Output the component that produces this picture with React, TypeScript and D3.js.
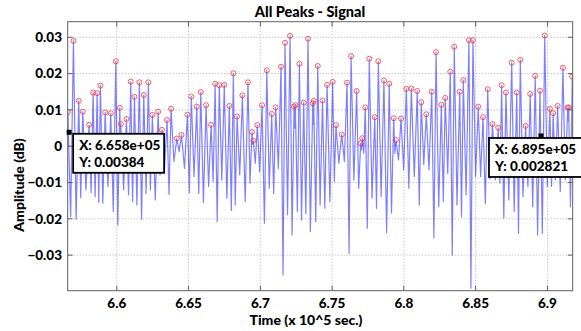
import React from 'react'
import * as d3 from 'd3'

// peak times (x 10^5 sec.) and amplitudes
const peakT = [
  6.5659, 6.5698, 6.5735, 6.5763, 6.5807, 6.5835, 6.5863, 6.5886, 6.5919, 6.5958,
  6.5993, 6.6021, 6.6028, 6.6067, 6.6097, 6.6123, 6.6157, 6.6188, 6.622, 6.6248,
  6.6288, 6.6315, 6.635, 6.6378, 6.6418, 6.6451, 6.6492, 6.6519, 6.6557, 6.6585,
  6.6622, 6.6657, 6.6685, 6.6714, 6.6749, 6.6784, 6.6812, 6.6838, 6.6875, 6.6914,
  6.6942, 6.6951, 6.6979, 6.7012, 6.7045, 6.7079, 6.7107, 6.7144, 6.7172, 6.7207,
  6.7235, 6.7244, 6.7272, 6.7302, 6.7332, 6.7365, 6.7372, 6.74, 6.7433, 6.7465,
  6.7504, 6.7527, 6.7567, 6.7604, 6.7632, 6.7671, 6.7699, 6.771, 6.7731, 6.7759,
  6.7797, 6.7822, 6.7861, 6.7898, 6.7929, 6.7945, 6.798, 6.8017, 6.8052, 6.8093,
  6.8121, 6.8156, 6.8194, 6.8224, 6.8261, 6.8288, 6.8323, 6.8351, 6.8389, 6.8414,
  6.8453, 6.8481, 6.8518, 6.8551, 6.8584, 6.8617, 6.8657, 6.8681, 6.8711, 6.8751,
  6.8786, 6.8811, 6.8848, 6.888, 6.8915, 6.8948, 6.8981, 6.9017, 6.904, 6.9071,
  6.9108, 6.9141, 6.9148, 6.9173,
]
const peakV = [
  0.0094, 0.029, 0.0125, 0.0095, 0.0059, 0.0148, 0.0146, 0.0167, 0.0093, 0.0091,
  0.0234, 0.0106, 0.0061, 0.0075, 0.0178, 0.0136, 0.0176, 0.0141, 0.0176, 0.0086,
  0.0095, 0.0045, 0.0072, 0.0103, 0.0021, 0.0031, 0.0087, 0.0137, 0.0109, 0.0149,
  0.0113, 0.0059, 0.0172, 0.0168, 0.0169, 0.0111, 0.0201, 0.0082, 0.014, 0.0176,
  0.0039, 0.0015, 0.0058, 0.0113, 0.0209, 0.0089, 0.0107, 0.0219, 0.0285, 0.0304,
  0.0109, 0.0113, 0.0227, 0.012, 0.0296, 0.0118, 0.0125, 0.0221, 0.0126, 0.0169,
  0.0177, 0.0058, 0.0032, 0.0175, 0.0248, 0.0152, 0.0008, 0.0022, 0.0107, 0.0241,
  0.008, 0.0234, 0.0181, 0.0172, 0.0077, 0.0017, 0.0076, 0.0158, 0.0159, 0.0152,
  0.0121, 0.0088, 0.015, 0.0259, 0.0114, 0.0133, 0.0205, 0.0274, 0.015, 0.0182,
  0.0292, 0.0292, 0.0109, 0.008, 0.0157, 0.0061, 0.0051, 0.0168, 0.0148, 0.023,
  0.0148, 0.0238, 0.0056, 0.0144, 0.0194, 0.0153, 0.0305, 0.0103, 0.0091, 0.0111,
  0.0216, 0.0106, 0.0107, 0.0192,
]
// minimum between each pair of neighbouring peaks
const troughV = [
  -0.0194, -0.0201, -0.0142, -0.012, -0.0128, -0.0139, -0.0155, -0.0157, -0.0111, -0.018,
  -0.0217, 0.003, -0.012, -0.0134, -0.0153, -0.0162, -0.0201, -0.013, -0.012,
  -0.0148, -0.0079, -0.006, -0.0133, -0.0042, -0.0015, -0.0061, -0.0128, -0.0084, -0.013,
  -0.0155, -0.0111, -0.0097, -0.0208, -0.0093, -0.0143, -0.0177, -0.0162,
  -0.0079, -0.0153, -0.0102, 0.0005, -0.0047, -0.007, -0.0212, -0.0116, -0.013, -0.0061,
  -0.0355, -0.0189, -0.0244, 0.005, -0.018, -0.0203, -0.0186, -0.0235, 0.006, -0.0208, -0.0162,
  -0.0171, -0.0153, -0.0097, -0.0047, -0.0042, -0.0295, -0.0093, -0.0116, -0.001, -0.0019,
  -0.0226, -0.0143, -0.0171, -0.0139, -0.0238, -0.0184, -0.002, -0.0038, -0.0065,
  -0.0116, -0.0084, -0.0162, -0.005, -0.0065, -0.0253, -0.0167, -0.0153, -0.0075, -0.03,
  -0.0162, -0.0194, -0.0134, -0.0391, -0.0084, -0.0084, -0.0158, -0.009,
  -0.0093, -0.0102, -0.0198, -0.0148, -0.018, -0.024, -0.0139, -0.0111, -0.0167, -0.0244,
  -0.024, -0.0111, -0.0111, -0.0093, -0.0125, -0.0093, 0.007, -0.0167,
]
const startV = 0.008
const endV = 0.012

const xTicks = [6.6, 6.65, 6.7, 6.75, 6.8, 6.85, 6.9]
const yTicks = [-0.03, -0.02, -0.01, 0, 0.01, 0.02, 0.03]

const tipX = [6.5668, 6.8955]
const tipY = [0.00384, 0.002821]
const tipXLabels = ['6.658e+05', '6.895e+05']
const tipYLabels = ['0.00384', '0.002821']

const W = 581
const H = 331
const margin = { top: 21.7, right: 8.3, bottom: 40.3, left: 67.7 }
const font = 'Lato, "Open Sans", sans-serif'

export default function App() {
  const x = d3.scaleLinear().domain([6.5658, 6.9176]).range([margin.left, W - margin.right])
  const y = d3.scaleLinear().domain([-0.0398, 0.0343]).range([H - margin.bottom, margin.top])

  const pts: [number, number][] = [[6.5658, startV]]
  peakT.forEach((t, i) => {
    pts.push([t, peakV[i]])
    if (i < troughV.length) pts.push([(t + peakT[i + 1]) / 2, troughV[i]])
  })
  pts.push([6.9176, endV])

  const line = d3.line<[number, number]>().x(d => x(d[0])).y(d => y(d[1]))
  const [x0, x1] = x.range()
  const [y0, y1] = y.range()

  const fmtY = (v: number) => (v === 0 ? '0' : d3.format('.2f')(v).replace(/0$/, ''))

  const boxes = [
    { dx: 4, dy: 1.5, w: 91, h: 39 },
    { dx: -52, dy: 2, w: 93, h: 39 },
  ]

  return (
    <svg width={W} height={H} style={{ position: 'absolute', left: 0, top: 0, background: '#fff' }} fontFamily={font}>
      <defs>
        <clipPath id="plot">
          <rect x={x0} y={y1} width={x1 - x0} height={y0 - y1} />
        </clipPath>
      </defs>
      <rect x={x0} y={y1} width={x1 - x0} height={y0 - y1} fill="#fff" />
      {xTicks.map(t => (
        <line key={'gx' + t} x1={x(t)} x2={x(t)} y1={y1} y2={y0} stroke="#b0b0b0" strokeWidth={1} strokeDasharray="1,2" />
      ))}
      {yTicks.map(t => (
        <line key={'gy' + t} x1={x0} x2={x1} y1={y(t)} y2={y(t)} stroke="#b0b0b0" strokeWidth={1} strokeDasharray="1,2" />
      ))}
      <g clipPath="url(#plot)">
        <path d={line(pts) || ''} fill="none" stroke="#0000ff" strokeWidth={1.2} strokeOpacity={0.5} strokeLinejoin="round" />
        {peakT.map((t, i) => (
          <circle key={'p' + i} cx={x(t)} cy={y(peakV[i])} r={2.5} fill="none" stroke="#ff3030" strokeWidth={0.8} />
        ))}
      </g>
      {xTicks.map(t => (
        <g key={'tx' + t}>
          <line x1={x(t)} x2={x(t)} y1={y0} y2={y0 - 5} stroke="#606060" />
          <line x1={x(t)} x2={x(t)} y1={y1} y2={y1 + 5} stroke="#606060" />
          <text x={x(t)} y={308} textAnchor="middle" fontSize={13.5} fontWeight={900}>{String(t)}</text>
        </g>
      ))}
      {yTicks.map(t => (
        <g key={'ty' + t}>
          <line x1={x0} x2={x0 + 5} y1={y(t)} y2={y(t)} stroke="#606060" />
          <line x1={x1} x2={x1 - 5} y1={y(t)} y2={y(t)} stroke="#606060" />
          <text x={62} y={y(t)} dy="0.35em" textAnchor="end" fontSize={13.5} fontWeight={900}>{fmtY(t)}</text>
        </g>
      ))}
      <rect x={x0} y={y1} width={x1 - x0} height={y0 - y1} fill="none" stroke="#606060" strokeWidth={1} />
      <text x={310} y={16.5} textAnchor="middle" fontSize={14.5} fontWeight={900}>All Peaks - Signal</text>
      <text x={306} y={324.5} textAnchor="middle" fontSize={14} fontWeight={900}>Time (x 10^5 sec.)</text>
      <text transform="translate(24,185) rotate(-90)" textAnchor="middle" fontSize={14} fontWeight={900}>Amplitude (dB)</text>
      {tipX.map((t, i) => {
        const mx = x(t)
        const my = y(tipY[i])
        const b = boxes[i]
        const bx = mx + b.dx
        const by = my + b.dy
        return (
          <g key={'tip' + i}>
            <rect x={mx - 2.5} y={my - 2.5} width={5} height={5} fill="#000" />
            <rect x={bx} y={by} width={b.w} height={b.h} fill="#fff" stroke="#000" strokeWidth={1.8} />
            <text x={bx + 6} y={by + 16} fontSize={13.5} fontWeight={900}>X: {tipXLabels[i]}</text>
            <text x={bx + 6} y={by + 33} fontSize={13.5} fontWeight={900}>Y: {tipYLabels[i]}</text>
          </g>
        )
      })}
    </svg>
  )
}
